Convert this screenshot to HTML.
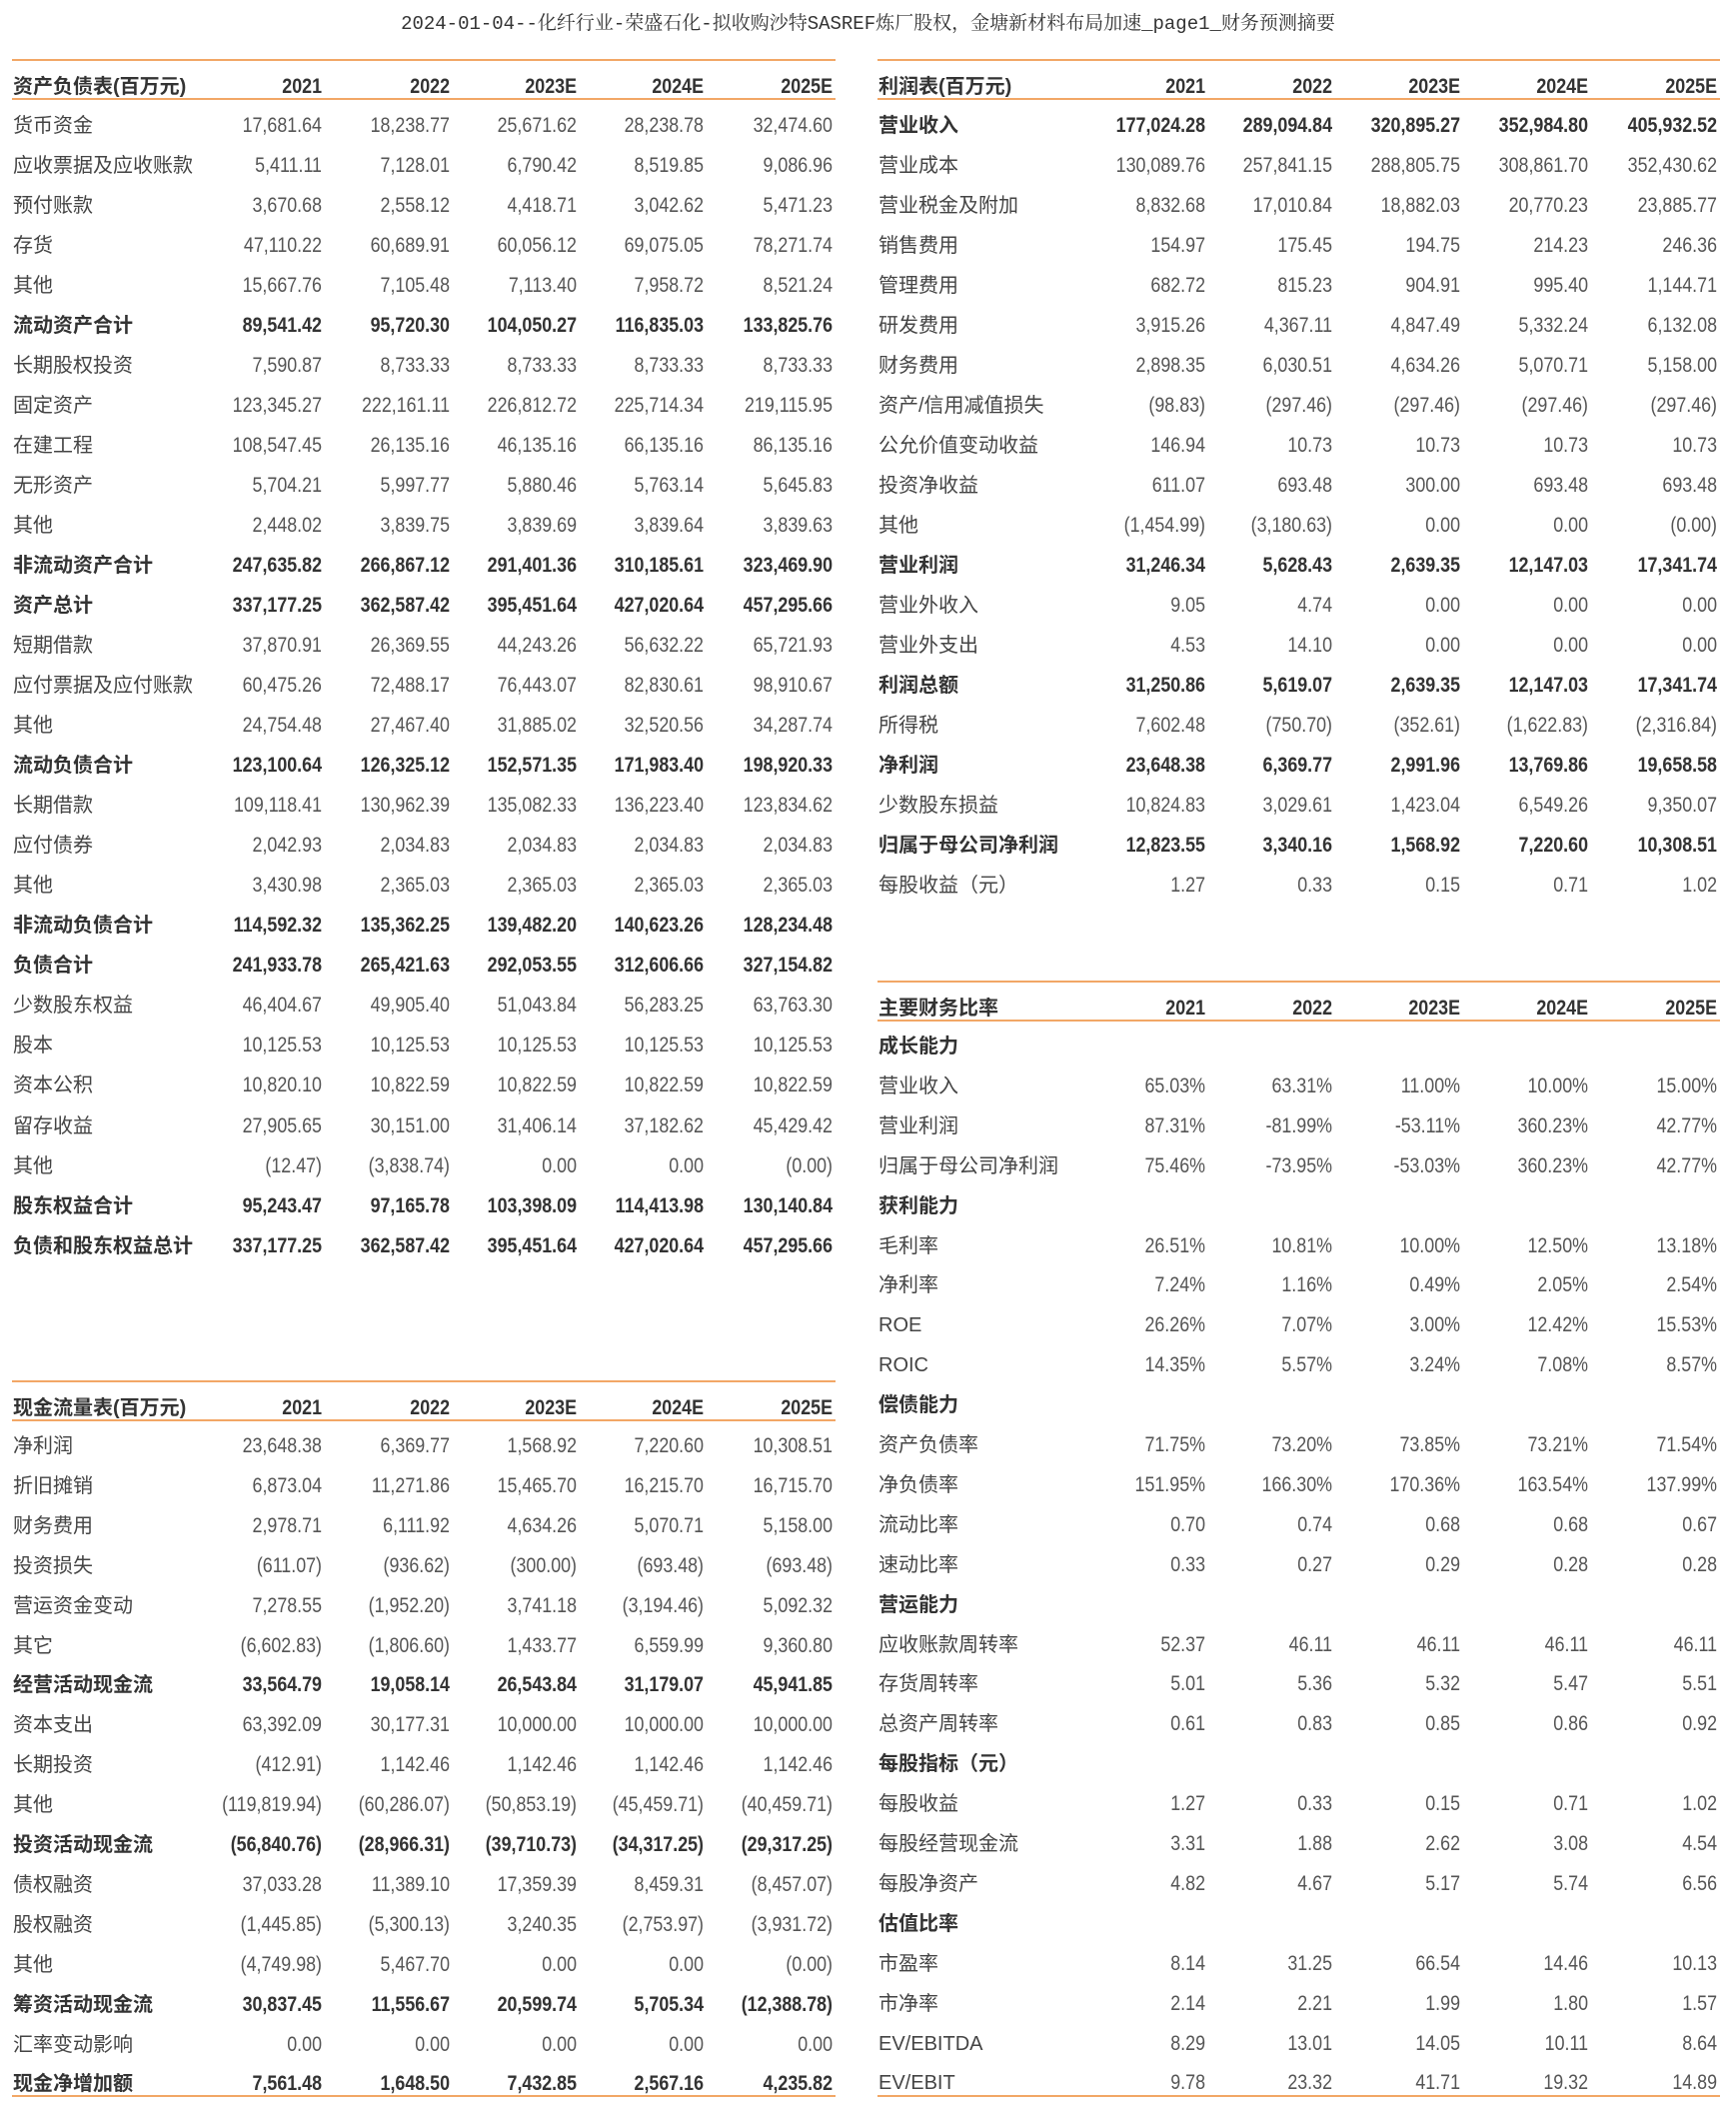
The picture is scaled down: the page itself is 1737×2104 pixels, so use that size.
<!DOCTYPE html>
<html><head><meta charset="utf-8">
<style>
html,body{margin:0;padding:0;background:#fff;}
body{width:1737px;height:2104px;position:relative;overflow:hidden;font-family:"Liberation Sans","Noto Sans CJK SC",sans-serif;color:#444;}
#title{position:absolute;left:0;width:1737px;top:8px;text-align:center;font-family:"Liberation Mono","Noto Serif CJK SC",serif;font-size:19px;color:#333;}
.line{position:absolute;height:2px;background:#f2a766;}
.lab{position:absolute;font-size:20px;line-height:26px;height:26px;white-space:nowrap;color:#444;}
.num{position:absolute;font-size:21px;line-height:26px;height:26px;white-space:nowrap;text-align:right;width:200px;transform:scaleX(0.85);transform-origin:right center;color:#555;}
.b{font-weight:bold;color:#333;}
</style></head><body>
<div id="title">2024-01-04--化纤行业-荣盛石化-拟收购沙特SASREF炼厂股权，金塘新材料布局加速_page1_财务预测摘要</div>
<script>
const years=["2021","2022","2023E","2024E","2025E"];
const bsRows=[
["货币资金",0,["17,681.64","18,238.77","25,671.62","28,238.78","32,474.60"]],
["应收票据及应收账款",0,["5,411.11","7,128.01","6,790.42","8,519.85","9,086.96"]],
["预付账款",0,["3,670.68","2,558.12","4,418.71","3,042.62","5,471.23"]],
["存货",0,["47,110.22","60,689.91","60,056.12","69,075.05","78,271.74"]],
["其他",0,["15,667.76","7,105.48","7,113.40","7,958.72","8,521.24"]],
["流动资产合计",1,["89,541.42","95,720.30","104,050.27","116,835.03","133,825.76"]],
["长期股权投资",0,["7,590.87","8,733.33","8,733.33","8,733.33","8,733.33"]],
["固定资产",0,["123,345.27","222,161.11","226,812.72","225,714.34","219,115.95"]],
["在建工程",0,["108,547.45","26,135.16","46,135.16","66,135.16","86,135.16"]],
["无形资产",0,["5,704.21","5,997.77","5,880.46","5,763.14","5,645.83"]],
["其他",0,["2,448.02","3,839.75","3,839.69","3,839.64","3,839.63"]],
["非流动资产合计",1,["247,635.82","266,867.12","291,401.36","310,185.61","323,469.90"]],
["资产总计",1,["337,177.25","362,587.42","395,451.64","427,020.64","457,295.66"]],
["短期借款",0,["37,870.91","26,369.55","44,243.26","56,632.22","65,721.93"]],
["应付票据及应付账款",0,["60,475.26","72,488.17","76,443.07","82,830.61","98,910.67"]],
["其他",0,["24,754.48","27,467.40","31,885.02","32,520.56","34,287.74"]],
["流动负债合计",1,["123,100.64","126,325.12","152,571.35","171,983.40","198,920.33"]],
["长期借款",0,["109,118.41","130,962.39","135,082.33","136,223.40","123,834.62"]],
["应付债券",0,["2,042.93","2,034.83","2,034.83","2,034.83","2,034.83"]],
["其他",0,["3,430.98","2,365.03","2,365.03","2,365.03","2,365.03"]],
["非流动负债合计",1,["114,592.32","135,362.25","139,482.20","140,623.26","128,234.48"]],
["负债合计",1,["241,933.78","265,421.63","292,053.55","312,606.66","327,154.82"]],
["少数股东权益",0,["46,404.67","49,905.40","51,043.84","56,283.25","63,763.30"]],
["股本",0,["10,125.53","10,125.53","10,125.53","10,125.53","10,125.53"]],
["资本公积",0,["10,820.10","10,822.59","10,822.59","10,822.59","10,822.59"]],
["留存收益",0,["27,905.65","30,151.00","31,406.14","37,182.62","45,429.42"]],
["其他",0,["(12.47)","(3,838.74)","0.00","0.00","(0.00)"]],
["股东权益合计",1,["95,243.47","97,165.78","103,398.09","114,413.98","130,140.84"]],
["负债和股东权益总计",1,["337,177.25","362,587.42","395,451.64","427,020.64","457,295.66"]]];
const isRows=[
["营业收入",1,["177,024.28","289,094.84","320,895.27","352,984.80","405,932.52"]],
["营业成本",0,["130,089.76","257,841.15","288,805.75","308,861.70","352,430.62"]],
["营业税金及附加",0,["8,832.68","17,010.84","18,882.03","20,770.23","23,885.77"]],
["销售费用",0,["154.97","175.45","194.75","214.23","246.36"]],
["管理费用",0,["682.72","815.23","904.91","995.40","1,144.71"]],
["研发费用",0,["3,915.26","4,367.11","4,847.49","5,332.24","6,132.08"]],
["财务费用",0,["2,898.35","6,030.51","4,634.26","5,070.71","5,158.00"]],
["资产/信用减值损失",0,["(98.83)","(297.46)","(297.46)","(297.46)","(297.46)"]],
["公允价值变动收益",0,["146.94","10.73","10.73","10.73","10.73"]],
["投资净收益",0,["611.07","693.48","300.00","693.48","693.48"]],
["其他",0,["(1,454.99)","(3,180.63)","0.00","0.00","(0.00)"]],
["营业利润",1,["31,246.34","5,628.43","2,639.35","12,147.03","17,341.74"]],
["营业外收入",0,["9.05","4.74","0.00","0.00","0.00"]],
["营业外支出",0,["4.53","14.10","0.00","0.00","0.00"]],
["利润总额",1,["31,250.86","5,619.07","2,639.35","12,147.03","17,341.74"]],
["所得税",0,["7,602.48","(750.70)","(352.61)","(1,622.83)","(2,316.84)"]],
["净利润",1,["23,648.38","6,369.77","2,991.96","13,769.86","19,658.58"]],
["少数股东损益",0,["10,824.83","3,029.61","1,423.04","6,549.26","9,350.07"]],
["归属于母公司净利润",1,["12,823.55","3,340.16","1,568.92","7,220.60","10,308.51"]],
["每股收益（元）",0,["1.27","0.33","0.15","0.71","1.02"]]];
const cfRows=[
["净利润",0,["23,648.38","6,369.77","1,568.92","7,220.60","10,308.51"]],
["折旧摊销",0,["6,873.04","11,271.86","15,465.70","16,215.70","16,715.70"]],
["财务费用",0,["2,978.71","6,111.92","4,634.26","5,070.71","5,158.00"]],
["投资损失",0,["(611.07)","(936.62)","(300.00)","(693.48)","(693.48)"]],
["营运资金变动",0,["7,278.55","(1,952.20)","3,741.18","(3,194.46)","5,092.32"]],
["其它",0,["(6,602.83)","(1,806.60)","1,433.77","6,559.99","9,360.80"]],
["经营活动现金流",1,["33,564.79","19,058.14","26,543.84","31,179.07","45,941.85"]],
["资本支出",0,["63,392.09","30,177.31","10,000.00","10,000.00","10,000.00"]],
["长期投资",0,["(412.91)","1,142.46","1,142.46","1,142.46","1,142.46"]],
["其他",0,["(119,819.94)","(60,286.07)","(50,853.19)","(45,459.71)","(40,459.71)"]],
["投资活动现金流",1,["(56,840.76)","(28,966.31)","(39,710.73)","(34,317.25)","(29,317.25)"]],
["债权融资",0,["37,033.28","11,389.10","17,359.39","8,459.31","(8,457.07)"]],
["股权融资",0,["(1,445.85)","(5,300.13)","3,240.35","(2,753.97)","(3,931.72)"]],
["其他",0,["(4,749.98)","5,467.70","0.00","0.00","(0.00)"]],
["筹资活动现金流",1,["30,837.45","11,556.67","20,599.74","5,705.34","(12,388.78)"]],
["汇率变动影响",0,["0.00","0.00","0.00","0.00","0.00"]],
["现金净增加额",1,["7,561.48","1,648.50","7,432.85","2,567.16","4,235.82"]]];
const ratioRows=[
["成长能力",1,null],
["营业收入",0,["65.03%","63.31%","11.00%","10.00%","15.00%"]],
["营业利润",0,["87.31%","-81.99%","-53.11%","360.23%","42.77%"]],
["归属于母公司净利润",0,["75.46%","-73.95%","-53.03%","360.23%","42.77%"]],
["获利能力",1,null],
["毛利率",0,["26.51%","10.81%","10.00%","12.50%","13.18%"]],
["净利率",0,["7.24%","1.16%","0.49%","2.05%","2.54%"]],
["ROE",0,["26.26%","7.07%","3.00%","12.42%","15.53%"]],
["ROIC",0,["14.35%","5.57%","3.24%","7.08%","8.57%"]],
["偿债能力",1,null],
["资产负债率",0,["71.75%","73.20%","73.85%","73.21%","71.54%"]],
["净负债率",0,["151.95%","166.30%","170.36%","163.54%","137.99%"]],
["流动比率",0,["0.70","0.74","0.68","0.68","0.67"]],
["速动比率",0,["0.33","0.27","0.29","0.28","0.28"]],
["营运能力",1,null],
["应收账款周转率",0,["52.37","46.11","46.11","46.11","46.11"]],
["存货周转率",0,["5.01","5.36","5.32","5.47","5.51"]],
["总资产周转率",0,["0.61","0.83","0.85","0.86","0.92"]],
["每股指标（元）",1,null],
["每股收益",0,["1.27","0.33","0.15","0.71","1.02"]],
["每股经营现金流",0,["3.31","1.88","2.62","3.08","4.54"]],
["每股净资产",0,["4.82","4.67","5.17","5.74","6.56"]],
["估值比率",1,null],
["市盈率",0,["8.14","31.25","66.54","14.46","10.13"]],
["市净率",0,["2.14","2.21","1.99","1.80","1.57"]],
["EV/EBITDA",0,["8.29","13.01","14.05","10.11","8.64"]],
["EV/EBIT",0,["9.78","23.32","41.71","19.32","14.89"]]];

const L={x0:12,x1:836,cols:[322,450,577,704,833]};
const R={x0:878,x1:1721,cols:[1206,1333,1461,1589,1718]};
function mk(cls,txt,x,y,name){
  const d=document.createElement('div');
  d.className=cls;d.textContent=txt;
  
  
  d.style.top=(y-13)+'px';
  if(cls.indexOf('num')>=0){d.style.left=(x-200)+'px';}else{d.style.left=x+'px';}
  document.body.appendChild(d);return d;
}
function line(g,y,name){
  const d=document.createElement('div');d.className='line';
  
  
  d.style.left=g.x0+'px';d.style.width=(g.x1-g.x0)+'px';d.style.top=(y-1)+'px';
  document.body.appendChild(d);
}
function table(g,title,rows,top,first,pitch,bottom,key){
  line(g,top,key+'-top-rule');
  mk('lab b',title,g.x0+1,top+27,key+'-title');
  years.forEach((yv,i)=>mk('num b',yv,g.cols[i],top+27,key+'-year-header'));
  line(g,top+39,key+'-header-rule');
  rows.forEach((r,j)=>{
    const y=first+j*pitch;
    mk('lab'+(r[1]?' b':''),r[0],g.x0+1,y,key+'-row-label');
    if(r[2]) r[2].forEach((v,i)=>mk('num'+(r[1]?' b':''),v,g.cols[i],y,key+'-cell'));
  });
  if(bottom) line(g,bottom,key+'-bottom-rule');
}
table(L,"资产负债表(百万元)",bsRows,60,126,40.02,0,'balance-sheet');
table(R,"利润表(百万元)",isRows,60,126,40.02,0,'income-statement');
table(L,"现金流量表(百万元)",cfRows,1382,1447,39.9,2097,'cash-flow');
table(R,"主要财务比率",ratioRows,982,1047,39.9,2097,'financial-ratios');
</script>
</body></html>
